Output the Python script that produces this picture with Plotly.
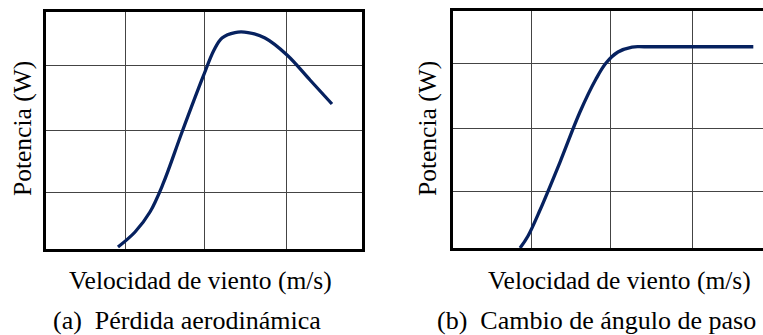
import plotly.graph_objects as go

# --- data (arbitrary units) ---
stall_speed = [0.911, 1.127, 1.316, 1.481, 1.722, 1.987, 2.127, 2.228, 2.392, 2.557,
               2.772, 3.051, 3.342, 3.620]
stall_power = [0.025, 0.279, 0.617, 1.091, 1.970, 2.901, 3.357, 3.560, 3.653, 3.653,
               3.560, 3.273, 2.850, 2.444]

pitch_speed = [0.841, 0.941, 1.092, 1.343, 1.593, 1.794, 1.920, 2.070, 2.246, 2.409, 3.768]
pitch_power = [0.0, 0.203, 0.641, 1.451, 2.295, 2.852, 3.122, 3.308, 3.392, 3.397, 3.397]

grid_x_a = [1.01, 2.01, 3.04]
grid_y_a = [0.939, 1.988, 3.088]
grid_x_b = [0.99, 1.97, 3.0]
grid_y_b = [0.962, 2.025, 3.122]

x_title = "Velocidad de viento (m/s)"
y_title = "Potencia (W)"
caption_a = "(a)  Pérdida aerodinámica"
caption_b = "(b)  Cambio de ángulo de paso"

LINE = "#06215f"
GRID = "#444444"
FONT = "Liberation Serif"
W, H = 763, 335

fig = go.Figure()
fig.add_trace(go.Scatter(x=stall_speed, y=stall_power, mode="lines", line_shape="spline",
                         line=dict(color=LINE, width=3.3, smoothing=1.0), xaxis="x", yaxis="y",
                         showlegend=False, hoverinfo="skip"))
fig.add_trace(go.Scatter(x=pitch_speed, y=pitch_power, mode="lines", line_shape="spline",
                         line=dict(color=LINE, width=3.3, smoothing=1.0), xaxis="x2", yaxis="y2",
                         showlegend=False, hoverinfo="skip"))

common_ax = dict(showticklabels=False, ticks="", zeroline=False, showgrid=True,
                 gridcolor=GRID, gridwidth=1.1, showline=True, linecolor="black",
                 linewidth=3, fixedrange=True)

fig.update_layout(
    width=W, height=H, margin=dict(l=0, r=0, t=0, b=0),
    paper_bgcolor="white", plot_bgcolor="white",
    font=dict(family=FONT, color="black"),
    xaxis=dict(domain=[46 / W, 362 / W], range=[0, 4], tickvals=grid_x_a,
               mirror=True, anchor="y", **common_ax),
    yaxis=dict(domain=[(H - 248.5) / H, (H - 12) / H], range=[0, 4], tickvals=grid_y_a,
               mirror=True, anchor="x", **common_ax),
    xaxis2=dict(domain=[453 / W, 1.0], range=[0, (763 - 453) / 79.7], tickvals=grid_x_b,
                mirror=True, anchor="y2", **common_ax),
    yaxis2=dict(domain=[(H - 248) / H, (H - 11) / H], range=[0, 4], tickvals=grid_y_b,
                mirror=False, anchor="x2", **common_ax),
)

def ann(text, xpx, ypx, size, angle=0):
    fig.add_annotation(text=text, x=xpx / W, y=(H - ypx) / H, xref="paper", yref="paper",
                       showarrow=False, xanchor="center", yanchor="middle",
                       textangle=angle, font=dict(family=FONT, size=size, color="black"))

ann(x_title, 200.5, 280, 25.5)
ann(x_title, 619, 280, 25.5)
ann(y_title, 22, 129, 25.5, -90)
ann(y_title, 427, 129, 25.5, -90)
ann(caption_a, 186.5, 320.5, 26)
ann(caption_b, 596, 320.5, 26)

fig.write_html("out.html")
